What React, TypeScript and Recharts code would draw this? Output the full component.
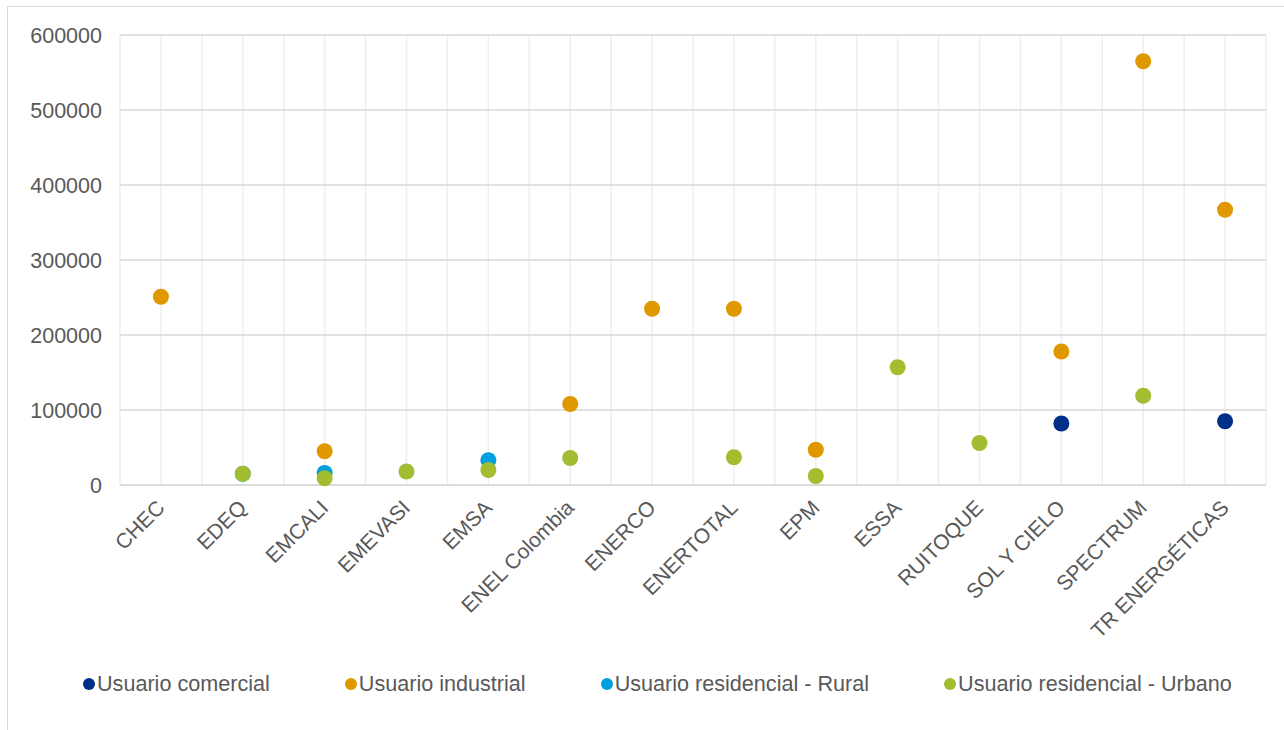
import React from 'react';
import { ScatterChart, Scatter, XAxis, YAxis, CartesianGrid, Legend } from 'recharts';

const categories = ['CHEC', 'EDEQ', 'EMCALI', 'EMEVASI', 'EMSA', 'ENEL Colombia', 'ENERCO', 'ENERTOTAL', 'EPM', 'ESSA', 'RUITOQUE', 'SOL Y CIELO', 'SPECTRUM', 'TR ENERGÉTICAS'];

const comercial = [null, null, null, null, null, null, null, null, null, null, null, 82000, null, 85000];
const industrial = [251000, null, 45000, null, null, 108000, 235000, 235000, 47000, null, null, 178000, 565000, 367000];
const rural = [null, 15000, 16000, null, 33000, null, null, null, null, null, null, null, null, null];
const urbano = [null, 15000, 9000, 18000, 20000, 36000, null, 37000, 12000, 157000, 56000, null, 119000, null];

const yTicks = [0, 100000, 200000, 300000, 400000, 500000, 600000];

const seriesNames = ['Usuario comercial', 'Usuario industrial', 'Usuario residencial - Rural', 'Usuario residencial - Urbano'];
const seriesColors = ['#002f87', '#df9800', '#009fdf', '#a2bd30'];
const seriesValues = [comercial, industrial, rural, urbano];

const toPoints = (vals: (number | null)[]) =>
  vals
    .map((v, i) => (v == null ? null : { x: i, y: v, name: categories[i] }))
    .filter((p) => p !== null) as { x: number; y: number; name: string }[];

const FONT = '"Liberation Sans", Arial, sans-serif';
const TEXT = '#595959';

const XTick = (props: any) => {
  const { x, y, payload } = props;
  const label = categories[payload.value] ?? '';
  const ax = x + 5;
  const ay = y + 24;
  return (
    <text x={ax} y={ay} transform={`rotate(-45 ${ax} ${ay})`} textAnchor="end" fill={TEXT} fontSize={21} fontFamily={FONT}>
      {label}
    </text>
  );
};

const LegendContent = () => (
  <div style={{ display: 'flex', alignItems: 'center', height: 30, paddingLeft: 83, gap: 75, fontFamily: FONT, fontSize: 21.6, color: TEXT, whiteSpace: 'nowrap' }}>
    {seriesNames.map((n, i) => (
      <div key={n} style={{ display: 'flex', alignItems: 'center' }}>
        <span style={{ display: 'inline-block', width: 12, height: 12, borderRadius: 6, background: seriesColors[i], marginRight: 2 }} />
        <span>{n}</span>
      </div>
    ))}
  </div>
);

const vGen = ({ offset }: any) => {
  const n = categories.length * 2;
  const pts: number[] = [];
  for (let k = 0; k <= n; k++) pts.push(offset.left + (offset.width * k) / n);
  return pts;
};

const Dot = (color: string) => (props: any) => {
  const { cx, cy } = props;
  if (cx == null || cy == null) return null;
  return <circle cx={cx} cy={cy} r={8} fill={color} />;
};

export default function App() {
  return (
    <div style={{ position: 'absolute', left: 0, top: 0, width: 1284, height: 730, overflow: 'hidden', background: '#fff' }}>
      <div style={{ position: 'absolute', left: 7, top: 6, width: 1400, height: 900, border: '1px solid #d9d9d9' }} />
      <div style={{ position: 'absolute', left: 0, top: 0 }}>
        <ScatterChart width={1284} height={730} margin={{ top: 35, right: 18, left: 0, bottom: 0 }}>
          <CartesianGrid horizontal={false} vertical={true} stroke="#eeeeee" strokeWidth={1.5} verticalCoordinatesGenerator={vGen} />
          <CartesianGrid horizontal={true} vertical={false} stroke="#d9d9d9" strokeWidth={1.5} />
          <XAxis
            type="number"
            dataKey="x"
            domain={[-0.5, categories.length - 0.5]}
            ticks={categories.map((_, i) => i)}
            interval={0}
            tick={<XTick />}
            tickLine={false}
            axisLine={{ stroke: '#d9d9d9', strokeWidth: 1.5 }}
            tickSize={0}
            tickMargin={0}
            height={215}
          />
          <YAxis
            type="number"
            dataKey="y"
            domain={[0, 600000]}
            ticks={yTicks}
            width={120}
            tickLine={false}
            axisLine={false}
            tickSize={0}
            tickMargin={18}
            tick={{ fill: TEXT, fontSize: 21.5, fontFamily: FONT }}
          />
          {seriesNames.map((n, i) => (
            <Scatter key={n} name={n} data={toPoints(seriesValues[i])} fill={seriesColors[i]} shape={Dot(seriesColors[i])} isAnimationActive={false} />
          ))}
          <Legend content={<LegendContent />} verticalAlign="bottom" wrapperStyle={{ left: 0, width: 1284, bottom: 31 }} />
        </ScatterChart>
      </div>
    </div>
  );
}
